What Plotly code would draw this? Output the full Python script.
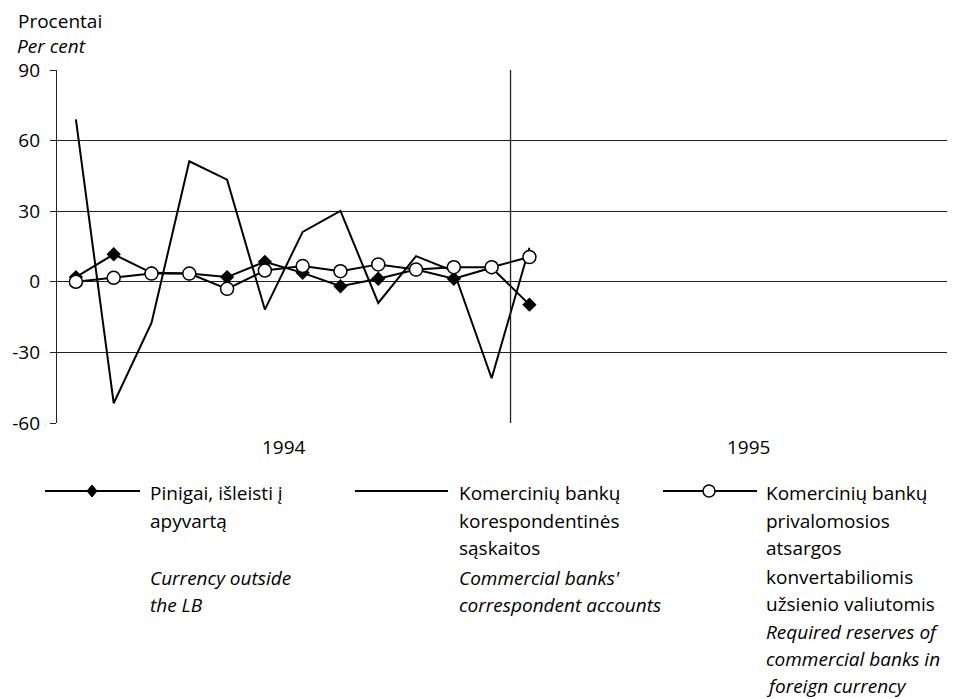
import plotly.graph_objects as go

# monthly changes, Jan 1994 .. Jan 1995 (index 0..12)
months = list(range(13))
currency = [2.0, 11.7, 3.8, 3.5, 2.0, 8.5, 3.8, -1.9, 1.3, 5.2, 1.3, 6.0, -9.7]
corr_accounts = [69.0, -51.6, -17.5, 51.2, 43.4, -11.8, 21.2, 30.1, -9.0, 10.9, 4.5, -41.0, 14.5]
reserves = [0.0, 1.7, 3.5, 3.5, -3.0, 4.8, 6.7, 4.5, 7.4, 5.2, 6.2, 6.2, 10.5]

year_labels = ['1994', '1995']
year_pos = [5.5, 17.8]
y_ticks = [-60, -30, 0, 30, 60, 90]
y_ticktext = ['-60', '-30', '0', '30', '60', '90']

FONT = 'Open Sans'
OFF = 8  # page body margin
W, H = 955 - OFF, 699 - OFF
L, R, T, B = 49, 0, 62, 276


def xp(px):
    # page pixel -> paper x
    return (px - OFF - L) / (W - L - R)


def yp(py):
    # page pixel -> paper y
    return (H - B - (py - OFF)) / (H - T - B)


fig = go.Figure()

fig.add_trace(go.Scatter(
    x=months, y=corr_accounts, mode='lines',
    line=dict(color='black', width=2), name='corr'
))
fig.add_trace(go.Scatter(
    x=months, y=currency, mode='lines+markers',
    line=dict(color='black', width=2),
    marker=dict(symbol='diamond', size=11, color='black'), name='currency'
))
fig.add_trace(go.Scatter(
    x=months, y=reserves, mode='lines+markers',
    line=dict(color='black', width=2),
    marker=dict(symbol='circle', size=13, color='white',
                line=dict(color='black', width=1.5)), name='reserves'
))

# separator between 1994 and 1995
fig.add_shape(type='line', xref='x', yref='paper', x0=11.5, x1=11.5, y0=0, y1=1,
              line=dict(color='#222', width=1.3))

annotations = []
for lab, pos in zip(year_labels, year_pos):
    annotations.append(dict(x=pos, y=yp(447), xref='x', yref='paper', text=lab,
                            yanchor='middle', showarrow=False,
                            font=dict(family=FONT, size=19, color='black')))

annotations.append(dict(x=xp(16), y=yp(21), xref='paper', yref='paper', text='Procentai',
                        xanchor='left', yanchor='middle', showarrow=False,
                        font=dict(family=FONT, size=19, color='black')))
annotations.append(dict(x=xp(15), y=yp(46), xref='paper', yref='paper', text='<i>Per cent</i>',
                        xanchor='left', yanchor='middle', showarrow=False,
                        font=dict(family=FONT, size=19, color='black')))

# legend blocks
legend_cols = [
    (148, [('Pinigai, išleisti į', 493), ('apyvartą', 521)],
          [('Currency outside', 578), ('the LB', 605)]),
    (457, [('Komercinių bankų', 493), ('korespondentinės', 521), ('sąskaitos', 548)],
          [("Commercial banks'", 578), ('correspondent accounts', 605)]),
    (764, [('Komercinių bankų', 493), ('privalomosios', 521), ('atsargos', 548),
           ('konvertabiliomis', 577), ('užsienio valiutomis', 604)],
          [('Required reserves of', 632), ('commercial banks in', 659), ('foreign currency', 686)]),
]
for x0, lt, en in legend_cols:
    for txt, y in lt:
        annotations.append(dict(x=xp(x0), y=yp(y), xref='paper', yref='paper', text=txt,
                                xanchor='left', yanchor='middle', showarrow=False,
                                font=dict(family=FONT, size=19, color='black')))
    for txt, y in en:
        annotations.append(dict(x=xp(x0), y=yp(y), xref='paper', yref='paper',
                                text='<i>' + txt + '</i>',
                                xanchor='left', yanchor='middle', showarrow=False,
                                font=dict(family=FONT, size=19, color='black')))

# legend samples
for a, b in [(45, 140), (355, 448), (663, 757)]:
    fig.add_shape(type='line', xref='paper', yref='paper', x0=xp(a), x1=xp(b),
                  y0=yp(491), y1=yp(491), line=dict(color='black', width=2))
fig.add_shape(type='path', xref='paper', yref='paper', xsizemode='pixel', ysizemode='pixel',
              xanchor=xp(92), yanchor=yp(491), path='M 0 6 L 5 0 L 0 -6 L -5 0 Z',
              fillcolor='black', line=dict(color='black', width=1))
fig.add_shape(type='circle', xref='paper', yref='paper', xsizemode='pixel', ysizemode='pixel',
              xanchor=xp(709), yanchor=yp(491), x0=-6, x1=6, y0=-6, y1=6,
              fillcolor='white', line=dict(color='black', width=1.5))

fig.update_layout(
    width=W, height=H,
    margin=dict(l=L, r=R, t=T, b=B),
    paper_bgcolor='white', plot_bgcolor='white',
    showlegend=False,
    annotations=annotations,
    font=dict(family=FONT, size=16, color='black'),
    xaxis=dict(range=[-0.5, 23.26], showgrid=False, zeroline=False,
               showticklabels=False, ticks='', showline=False),
    yaxis=dict(range=[-60, 90], tickvals=y_ticks, ticktext=y_ticktext,
               showgrid=True, gridcolor='#222', gridwidth=1.3, zeroline=False,
               showline=True, linecolor='#222', linewidth=1.3,
               ticks='outside', ticklen=6, tickcolor='#222', tickwidth=1.3,
               ticklabelstandoff=6,
               tickfont=dict(family=FONT, size=19, color='black')),
)

fig.write_html('out.html')
